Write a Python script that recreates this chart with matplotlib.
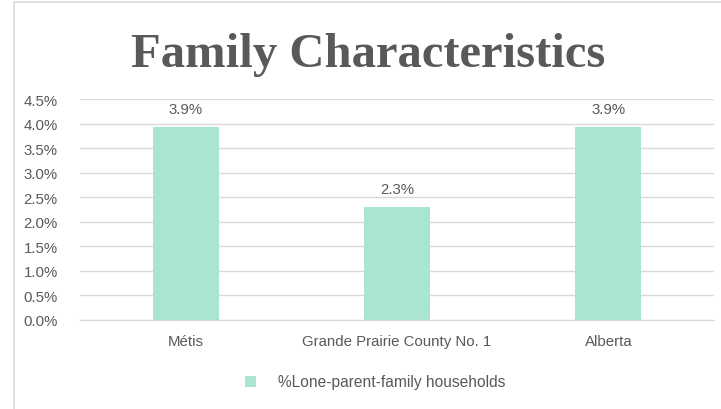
import matplotlib.pyplot as plt
from matplotlib.patches import Rectangle

categories = ['Métis', 'Grande Prairie County No. 1', 'Alberta']
values = [3.94, 2.31, 3.93]
labels = ['3.9%', '2.3%', '3.9%']
series_name = '%Lone-parent-family households'
yticks = [0.0, 0.5, 1.0, 1.5, 2.0, 2.5, 3.0, 3.5, 4.0, 4.5]

bar_color = '#A9E5D1'
text_color = '#595959'
fs = 10.8

fig = plt.figure(figsize=(7.21, 4.10), dpi=100)
fig.patch.set_facecolor('white')

# рамка диаграммы
fig.patches.append(Rectangle((14 / 721, -0.05), 1.0, 1 - 3 / 410 + 0.05,
                             transform=fig.transFigure, fill=False,
                             edgecolor='#D9D9D9', linewidth=1.2))

ax = fig.add_axes([80 / 721, (410 - 321) / 410, (714 - 80) / 721, (321 - 100) / 410])

x = list(range(len(categories)))
bars = ax.bar(x, values, width=66 / 211, color=bar_color, label=series_name, zorder=2)

for xi, v, lab in zip(x, values, labels):
    ax.text(xi, v + 0.22, lab, ha='center', va='bottom', fontsize=fs,
            color=text_color, family='Liberation Sans')

ax.set_xlim(-0.5, 2.5)
ax.set_ylim(0, 4.5)
ax.set_yticks(yticks)
ax.set_yticklabels([f'{t:.1f}%' for t in yticks])
ax.set_xticks(x)
ax.set_xticklabels(categories)
ax.tick_params(axis='both', length=0, labelsize=fs, labelcolor=text_color)
ax.tick_params(axis='x', pad=10)
ax.tick_params(axis='y', pad=16)
for lab in ax.get_xticklabels() + ax.get_yticklabels():
    lab.set_family('Liberation Sans')

ax.grid(axis='y', color='#D9D9D9', linewidth=1, zorder=0)
for s in ['top', 'right', 'left']:
    ax.spines[s].set_visible(False)
ax.spines['bottom'].set_color('#D9D9D9')

fig.text(368 / 721, (410 - 55) / 410, 'Family Characteristics', ha='center', va='center',
         fontsize=35, fontweight='bold', color=text_color, family='Liberation Serif')

leg = fig.legend(handles=[bars], loc='center', bbox_to_anchor=(0.52, (410 - 383) / 410),
                 frameon=False, handlelength=0.7, handleheight=0.7,
                 handletextpad=1.4, prop={'family': 'Liberation Sans', 'size': 11.2})
for t in leg.get_texts():
    t.set_color(text_color)

fig.savefig('out.png', dpi=100)
